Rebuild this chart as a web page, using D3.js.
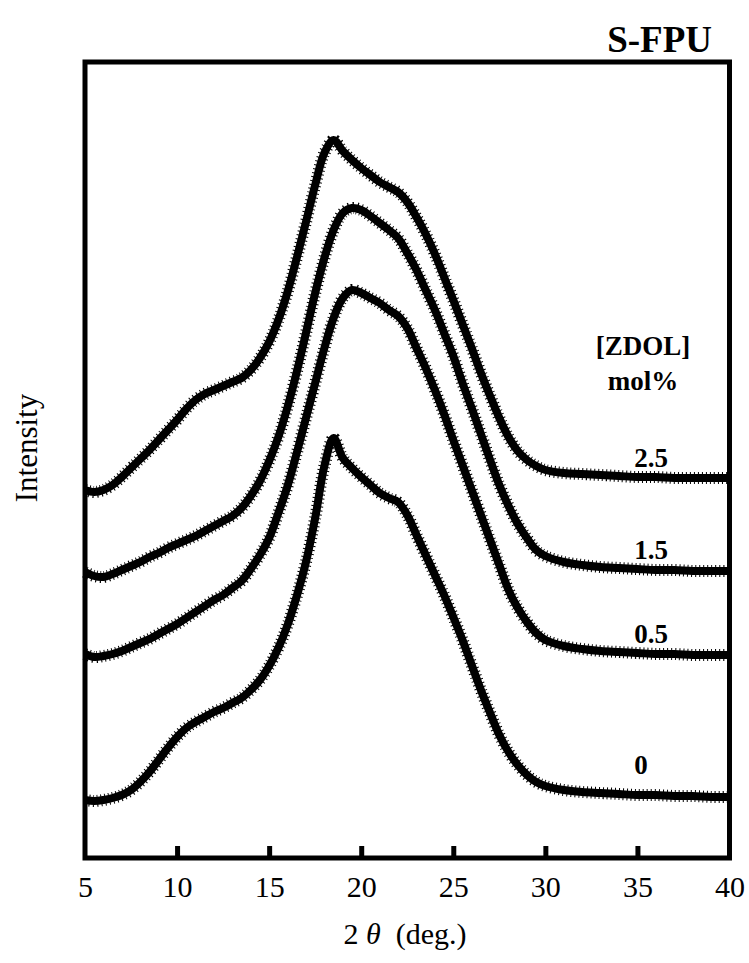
<!DOCTYPE html>
<html>
<head>
<meta charset="utf-8">
<script src="https://cdn.jsdelivr.net/npm/d3@7/dist/d3.min.js"></script>
<style>
  html, body { margin: 0; padding: 0; background: #fff; }
  svg { display: block; }
</style>
</head>
<body>
<svg id="chart" width="749" height="963"></svg>
<script>
// Scattering angle 2θ (deg.) for the sampled points
const twoTheta = [5.0,5.5,6.0,6.5,7.0,7.5,8.0,8.5,9.0,9.5,10.0,10.5,11.0,11.5,12.0,12.5,13.0,13.5,14.0,14.5,15.0,15.5,16.0,16.5,17.0,17.5,18.0,18.5,19.0,19.5,20.0,20.5,21.0,21.5,22.0,22.5,23.0,23.5,24.0,24.5,25.0,25.5,26.0,26.5,27.0,27.5,28.0,28.5,29.0,29.5,30.0,31,32,33,34,35,36,37,38,39,40];

// Intensity (arbitrary units, curves offset vertically) for each ZDOL content
const intensity0 = [58,57,58,60,63,68,76,86,98,110,121,130,136,141,146,150,155,160,168,178,192,210,233,262,296,340,392,420,400,390,381,373,365,360,356,343,323,303,283,263,241,218,193,168,145,123,106,93,83,76,72,68,66,65,64,63,63,62,62,61,61];
const intensity05 = [204,201,202,204,207,211,215,219,224,229,234,240,246,252,258,263,270,277,289,303,320,345,372,405,440,475,510,540,560,568,565,560,555,548,542,530,510,490,468,444,418,393,368,343,318,293,268,250,236,225,218,212,209,207,206,205,204,204,203,203,203];
const intensity15 = [286,282,281,284,288,292,296,301,305,310,314,318,322,327,332,337,342,350,362,377,397,421,451,486,525,565,600,628,645,650,648,642,635,628,620,605,588,568,548,525,502,475,450,424,398,373,352,334,320,308,302,296,293,291,290,289,288,288,287,287,287];
const intensity25 = [368,366,368,373,381,390,399,408,418,428,438,449,458,464,468,472,476,480,488,500,516,538,566,600,636,673,705,718,707,698,690,683,676,671,666,656,641,624,604,581,558,534,510,485,462,440,421,407,398,392,388,385,384,383,382,381,381,380,380,380,380];

const seriesNames = ["2.5", "1.5", "0.5", "0"];
const seriesValues = [intensity25, intensity15, intensity05, intensity0];

// Axis tick values and the legend heading
const xTicks = [5, 10, 15, 20, 25, 30, 35, 40];
const legendTitle = ["[ZDOL]", "mol%"];
const chartTitle = "S-FPU";

const serif = "'Liberation Serif', 'Times New Roman', Times, serif";

const svg = d3.select("#chart");
const margin = { left: 85, right: 749 - 729.5, top: 62, bottom: 963 - 858 };
const plotW = 749 - margin.left - margin.right;
const plotH = 963 - margin.top - margin.bottom;

const x = d3.scaleLinear().domain([5, 40]).range([margin.left, margin.left + plotW]);
const y = d3.scaleLinear().domain([0, plotH]).range([margin.top + plotH, margin.top]);

// Diffraction traces: a solid core plus a fine comb stroke for the counting scatter
const line = d3.line()
  .x((d, i) => x(twoTheta[i]))
  .y(d => y(d))
  .curve(d3.curveCatmullRom.alpha(0.5));

const traces = svg.append("g");
traces.selectAll("path.scatter")
  .data(seriesValues)
  .join("path")
  .attr("class", "scatter")
  .attr("d", d => line(d))
  .attr("fill", "none")
  .attr("stroke", "#000")
  .attr("stroke-width", 12)
  .attr("stroke-dasharray", "1 3")
  .attr("stroke-linecap", "butt");
traces.selectAll("path.core")
  .data(seriesValues)
  .join("path")
  .attr("class", "core")
  .attr("d", d => line(d))
  .attr("fill", "none")
  .attr("stroke", "#000")
  .attr("stroke-width", 8)
  .attr("stroke-linejoin", "round")
  .attr("stroke-linecap", "butt");

// Bottom axis: short inward ticks with labels below
const xAxis = d3.axisBottom(x)
  .tickValues(xTicks)
  .tickFormat(d3.format("d"))
  .tickSizeInner(-12)
  .tickSizeOuter(0)
  .tickPadding(18);

const gx = svg.append("g")
  .attr("transform", `translate(0,${margin.top + plotH})`)
  .call(xAxis);
gx.select(".domain").remove();
gx.selectAll(".tick line")
  .attr("stroke", "#000")
  .attr("stroke-width", 5)
  .filter(d => d === 5 || d === 40).remove();
gx.selectAll(".tick text")
  .style("font-family", serif)
  .style("font-size", "30px")
  .attr("fill", "#000");

// Plot frame (drawn over the trace ends)
svg.append("rect")
  .attr("x", margin.left)
  .attr("y", margin.top)
  .attr("width", plotW)
  .attr("height", plotH)
  .attr("fill", "none")
  .attr("stroke", "#000")
  .attr("stroke-width", 5);

// Axis titles
const xt = svg.append("text")
  .attr("x", 405)
  .attr("y", 944)
  .attr("text-anchor", "middle")
  .style("font-family", serif)
  .style("font-size", "30px")
  .style("white-space", "pre");
xt.append("tspan").text("2 ");
xt.append("tspan").style("font-style", "italic").text("\u03B8");
xt.append("tspan").text("  (deg.)");

svg.append("text")
  .attr("transform", "translate(37,448) rotate(-90)")
  .attr("text-anchor", "middle")
  .style("font-family", serif)
  .style("font-size", "31px")
  .text("Intensity");

// Title
svg.append("text")
  .attr("x", 712)
  .attr("y", 52)
  .attr("text-anchor", "end")
  .style("font-family", serif)
  .style("font-size", "37px")
  .style("font-weight", "bold")
  .text(chartTitle);

// Legend heading
svg.selectAll("text.legend-head")
  .data(legendTitle)
  .join("text")
  .attr("class", "legend-head")
  .attr("x", 643)
  .attr("y", (d, i) => 355 + i * 35)
  .attr("text-anchor", "middle")
  .style("font-family", serif)
  .style("font-size", "27px")
  .style("font-weight", "bold")
  .text(d => d);

// Curve labels, placed just above each trace's right-hand tail
svg.selectAll("text.series-label")
  .data(seriesNames)
  .join("text")
  .attr("class", "series-label")
  .attr("x", d => d === "0" ? 641 : 651)
  .attr("y", (d, i) => y(seriesValues[i][twoTheta.indexOf(35)]) - (d === "0" ? 21 : 10))
  .attr("text-anchor", "middle")
  .style("font-family", serif)
  .style("font-size", "27px")
  .style("font-weight", "bold")
  .text(d => d);
</script>
</body>
</html>
